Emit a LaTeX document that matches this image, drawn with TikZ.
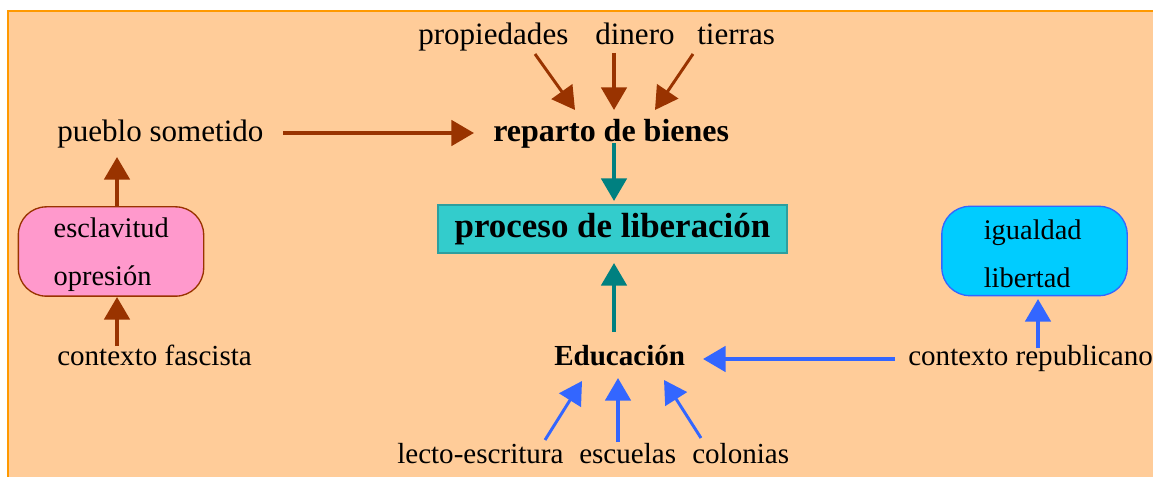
\documentclass[tikz,border=0pt]{standalone}
\usepackage{fontspec}
\setmainfont{Liberation Serif}
\usetikzlibrary{arrows.meta}
\definecolor{bg}{HTML}{FFCC99}
\definecolor{framec}{HTML}{FF9900}
\definecolor{brn}{HTML}{993300}
\definecolor{tealc}{HTML}{008080}
\definecolor{blu}{HTML}{3366FF}
\definecolor{procfill}{HTML}{33CCCC}
\definecolor{procdraw}{HTML}{2E9E9E}
\definecolor{pinkf}{HTML}{FF99CC}
\definecolor{cyanf}{HTML}{00CCFF}
\begin{document}
\begin{tikzpicture}[x=0.75pt,y=-0.75pt,
  lbl/.style={font=\fontsize{21.8pt}{36pt}\selectfont, inner sep=0pt, anchor=base west},
  biglbl/.style={lbl, font=\fontsize{23.3pt}{28pt}\selectfont},
  boldlbl/.style={lbl, font=\fontsize{21.8pt}{26pt}\selectfont\bfseries},
  tip/.style={-{Triangle[length=17pt,width=19pt]}},
  thickarr/.style={tip, line width=3pt},
  thinarr/.style={tip, line width=2.2pt},
  brownarr/.style={thickarr, draw=brn},
  browndiag/.style={thinarr, draw=brn},
  tealarr/.style={thickarr, draw=tealc},
  bluearr/.style={thickarr, draw=blu},
  bluediag/.style={thinarr, draw=blu},
  roundbox/.style={line width=1pt, rounded corners=21pt, minimum width=139pt,
    minimum height=67pt, inner sep=0pt, align=left,
    font=\fontsize{21.3pt}{36pt}\selectfont}
]
\useasboundingbox (0,0) rectangle (1153,477);
\clip (0,0) rectangle (1153,477);
\fill[white] (0,0) rectangle (1153,477);
\filldraw[fill=bg, draw=framec, line width=1.5pt] (7.5,11) rectangle (1175,500);

% top words
\node[biglbl] (prop) at (418,45) {propiedades};
\node[biglbl] (din) at (595,45) {dinero};
\node[biglbl] (tier) at (697,45) {tierras};

% middle row
\node[biglbl] (pueblo) at (57,142) {pueblo sometido};
\node[lbl, font=\fontsize{24pt}{28pt}\selectfont\bfseries] (rep) at (493,142) {reparto de bienes};

\node[draw=procdraw, fill=procfill, line width=1pt, minimum width=261.75pt,
  minimum height=36pt, inner sep=0pt,
  font=\fontsize{26.2pt}{30pt}\selectfont\bfseries] (proc) at (612.5,229) {proceso de liberación};

\node[roundbox, draw=brn, fill=pinkf, text width=86pt] (escl) at (111,251.5) {\rule{0pt}{19.5pt}esclavitud\\opresión};
\node[roundbox, draw=blu, fill=cyanf, text width=76pt] (igual) at (1034.5,251) {\rule{0pt}{19.5pt}igualdad\\libertad};

\node[lbl] (fasc) at (57,365) {contexto fascista};
\node[lbl] (repub) at (908,365) {contexto republicano};
\node[boldlbl] (edu) at (554,365) {Educación};

% bottom words
\node[lbl] (lecto) at (397,463) {lecto-escritura};
\node[lbl] (escu) at (579,463) {escuelas};
\node[lbl] (colo) at (692,463) {colonias};

% arrow end points
\coordinate (propS) at (535,54);   \coordinate (propE) at (575,110);
\coordinate (dinS) at (614,53);    \coordinate (dinE) at (614,110);
\coordinate (tierS) at (693,54);   \coordinate (tierE) at (655,110);
\coordinate (puebS) at (283,133);  \coordinate (puebE) at (474,133);
\coordinate (repS) at (614,143);   \coordinate (repE) at (614,201);
\coordinate (eduS) at (614,332);   \coordinate (eduE) at (614,263);
\coordinate (esclS) at (117,207);  \coordinate (esclE) at (117,157);
\coordinate (fascS) at (117,346);  \coordinate (fascE) at (117,297);
\coordinate (repubS) at (895,359); \coordinate (repubE) at (703,359);
\coordinate (igS) at (1038,348);   \coordinate (igE) at (1038,299);
\coordinate (lecS) at (545,440);   \coordinate (lecE) at (582,381);
\coordinate (escS) at (618,442);   \coordinate (escE) at (618,378);
\coordinate (colS) at (701,438);   \coordinate (colE) at (664,380);

% brown arrows
\draw[browndiag] (propS) -- (propE);
\draw[brownarr] (dinS) -- (dinE);
\draw[browndiag] (tierS) -- (tierE);
\draw[brownarr] (puebS) -- (puebE);
\draw[brownarr] (esclS) -- (esclE);
\draw[brownarr] (fascS) -- (fascE);

% teal arrows
\draw[tealarr] (repS) -- (repE);
\draw[tealarr] (eduS) -- (eduE);

% blue arrows
\draw[bluearr] (repubS) -- (repubE);
\draw[bluearr] (igS) -- (igE);
\draw[bluediag] (lecS) -- (lecE);
\draw[bluearr] (escS) -- (escE);
\draw[bluediag] (colS) -- (colE);
\end{tikzpicture}
\end{document}
